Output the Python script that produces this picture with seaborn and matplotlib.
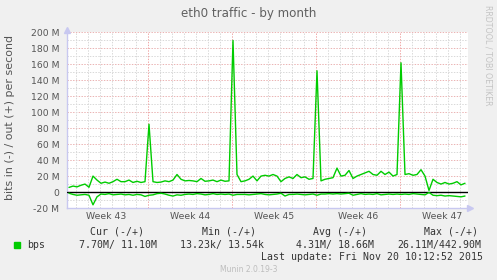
import numpy as np
import pandas as pd
import matplotlib
matplotlib.use("Agg")
import matplotlib.pyplot as plt
import seaborn as sns
from matplotlib.patches import Rectangle

# ---------------- data (Mbit/s) ----------------
out_mbps = [5.8, 7.5, 6.5, 8.5, 10, 6, 20, 15, 11, 12.5, 11, 13, 16, 13, 13, 15, 12, 13.5, 12, 13, 85, 13, 12, 12.5, 14,
            13, 15, 22, 16, 14, 14.5, 14, 13, 17, 13.5, 14, 15, 13, 15, 13.5, 14, 190, 22, 13, 14, 16, 20, 14, 20,
            21, 20, 22, 20, 13, 17, 19, 17, 22, 18, 19, 16, 17, 152, 14, 16, 17, 18, 30, 20, 21, 27, 17, 20, 22,
            24, 26, 22, 21, 26, 22, 25, 20, 22, 162, 22, 23, 21, 22, 28, 20, 2, 16, 12, 10, 12, 10, 11, 13, 9, 11]
in_mbps = [1.5, 3, 4, 3.5, 3, 4, 16, 6, 2.5, 3, 2, 3.5, 3, 2.5, 3.5, 3, 4, 3, 3.5, 5.5, 4, 3.5, 2, 1.5, 2.5,
           4, 5, 3.5, 4, 3, 2.5, 3, 2, 2.5, 3.5, 3, 2, 3, 2.5, 3, 2.5, 4, 3, 3, 3, 3.5, 3, 2.5, 2,
           3, 3.5, 3, 2.5, 1.5, 5, 3, 3, 2.5, 3, 3.5, 3, 2.5, 4, 2.5, 2.5, 2, 2.5, 2, 2.5, 2, 1.5, 4, 3, 2,
           3, 2.5, 3, 2, 3.5, 3, 2.5, 3, 2.5, 3, 2.5, 3, 2, 2.5, 3, 3.5, 0.5, 4, 4.5, 4, 5, 4.5, 5, 5.5, 6, 5]
# sample times in days (8-hour samples)
days = (np.arange(len(out_mbps)) + 0.5) / 3.0

week_starts = [-0.22, 6.78, 13.78, 20.78, 27.78]
week_labels = ["Week 43", "Week 44", "Week 45", "Week 46", "Week 47"]
span_days = 401 / 12.0

y_ticks = [-20, 0, 20, 40, 60, 80, 100, 120, 140, 160, 180, 200]

legend_heads = ["Cur (-/+)", "Min (-/+)", "Avg (-/+)", "Max (-/+)"]
legend_vals = ["7.70M/ 11.10M", "13.23k/ 13.54k", "4.31M/ 18.66M", "26.11M/442.90M"]
series_name = "bps"
last_update = "Last update: Fri Nov 20 10:12:52 2015"
title = "eth0 traffic - by month"
ylabel = "bits in (-) / out (+) per second"

df = pd.DataFrame({"day": days, "out": out_mbps, "in": -np.array(in_mbps)})

# ---------------- figure ----------------
sns.set_style("white")
plt.rcParams['font.family'] = ['DejaVu Sans']
W, H = 497, 280
BG = "#f0f0f0"
GREEN = "#00cc00"
TXT = "#555555"
fig = plt.figure(figsize=(W / 100, H / 100), dpi=100, facecolor=BG)

def fx(px):
    return px / W

def fy(py):
    return 1 - py / H

ax = fig.add_axes([fx(67), 72 / H, 401 / W, 176 / H])
ax.set_facecolor("white")
ax.set_xlim(0, span_days)
ax.set_ylim(-20, 200.6)

px_lw = 0.72
dots = (0, (1.4, 1.4))
# horizontal grid
for v in np.arange(-10, 201, 10):
    col = "#ebb4b4" if v % 20 == 0 else "#d9d9d9"
    ax.axhline(v, color=col, lw=px_lw, ls=dots, zorder=1)
# vertical grid: days and weeks
for d in np.arange(week_starts[0], span_days, 1.0):
    if d <= 0:
        continue
    is_week = any(abs(d - w) < 1e-6 for w in week_starts)
    col = "#f0a8a8" if is_week else "#d9d9d9"
    ax.axvline(d, color=col, lw=px_lw, ls=dots, zorder=1)

# zero line
ax.axhline(0, color="black", lw=1.0, zorder=3)

sns.lineplot(data=df, x="day", y="out", color=GREEN, lw=1.0, ax=ax, zorder=4)
sns.lineplot(data=df, x="day", y="in", color=GREEN, lw=1.0, ax=ax, zorder=4)

ax.set_xlabel("")
ax.set_ylabel("")
ax.set_yticks(y_ticks)
ax.set_yticklabels([("0" if v == 0 else f"{v} M") for v in y_ticks], fontsize=6.7, color=TXT)
ax.tick_params(axis="y", length=0, pad=5.5)
ax.set_xticks([])

for s in ["top", "right"]:
    ax.spines[s].set_visible(False)
AXC = "#c8c8f0"
ax.spines["left"].set_color(AXC)
ax.spines["bottom"].set_color(AXC)
ax.spines["left"].set_linewidth(1.0)
ax.spines["bottom"].set_linewidth(1.0)
# arrow heads
ax.plot([0], [203], marker="^", color=AXC, ms=5, clip_on=False)
ax.plot([span_days + 0.2], [-20], marker=">", color=AXC, ms=5, clip_on=False)

# week labels
for w, lab in zip(week_starts, week_labels):
    ax.text(w + 3.5, -31, lab, ha="center", va="center", fontsize=6.7, color=TXT)

# title, ylabel
fig.text(fx(248.5), fy(13), title, ha="center", va="center", fontsize=8.6, color="#606060")
fig.text(fx(10), fy(117), ylabel, ha="center", va="center", rotation=90, fontsize=7.9, color=TXT)
fig.text(fx(488), fy(5), "RRDTOOL / TOBI OETIKER", ha="center", va="top", rotation=270,
         fontsize=5.7, color="#c4c4c4")

# legend
mono = "DejaVu Sans Mono"
LT = "#333333"
for lab, x in zip(legend_heads, [89.7, 201.7, 312.7, 423.7]):
    fig.text(fx(x), fy(232), lab, ha="left", va="center", family=mono, fontsize=7.1, color=LT)
fig.patches.append(Rectangle((fx(14), fy(248)), 6 / W, 6 / H, transform=fig.transFigure,
                             color=GREEN, figure=fig))
fig.text(fx(26.7), fy(245), series_name, ha="left", va="center", family=mono, fontsize=7.1, color=LT)
for val, x in zip(legend_vals, [79, 180.3, 295.7, 397.7]):
    fig.text(fx(x), fy(245), val, ha="left", va="center", family=mono, fontsize=7.1, color=LT)
fig.text(fx(483), fy(257), last_update, ha="right", va="center", family=mono, fontsize=7.1, color=LT)
fig.text(fx(249), fy(269), "Munin 2.0.19-3", ha="center", va="center", fontsize=5.5, color="#bdbdbd")

fig.savefig("out.png", dpi=100, facecolor=BG)
